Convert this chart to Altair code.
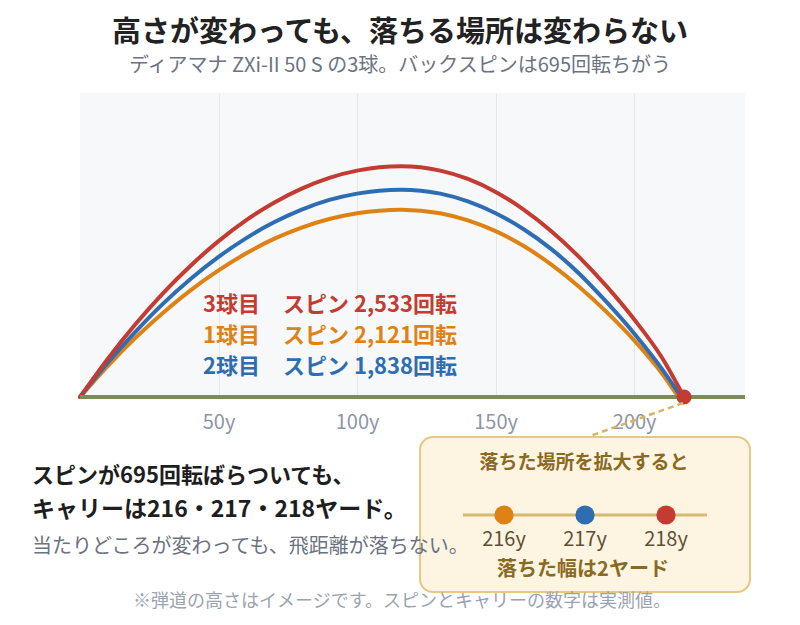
import altair as alt
import pandas as pd

FONT = "Noto Sans CJK JP"

RED = "#c43b31"
ORANGE = "#e08213"
BLUE = "#2f6db3"
GROUND = "#7c8b5b"
GOLD = "#8a6a22"

# trajectories: carry (yards) and height (plot units)
ball1_x = [0, 10, 20, 30, 40, 50, 60, 70, 80, 90, 100, 116, 130, 140, 150, 160, 170, 180, 190, 200, 210, 216]
ball1_h = [0, 11.2, 21.4, 30.5, 38.7, 45.8, 52.0, 57.2, 61.3, 64.4, 66.5, 67.8, 66.5, 63.9, 60.0, 54.7, 48.0, 40.0, 30.8, 20.5, 8.6, 0]

ball2_x = [0, 10, 20, 30, 40, 50, 60, 70, 80, 90, 100, 116, 130, 140, 150, 160, 170, 180, 190, 200, 210, 217]
ball2_h = [0, 12.4, 23.6, 33.8, 42.8, 50.7, 57.5, 63.2, 67.8, 71.3, 73.6, 75.0, 73.6, 70.8, 66.5, 60.8, 53.6, 44.8, 34.4, 23.0, 10.2, 0]

ball3_x = [0, 10, 20, 30, 40, 50, 60, 70, 80, 90, 100, 116, 130, 140, 150, 160, 170, 180, 190, 200, 210, 218]
ball3_h = [0, 13.8, 26.3, 37.6, 47.6, 56.4, 64.0, 70.3, 75.4, 79.3, 81.9, 83.5, 81.9, 78.9, 74.2, 67.9, 60.1, 50.8, 40.1, 28.1, 14.3, 0]

balls = ["1球目", "2球目", "3球目"]
carries = [216, 217, 218]
spins = ["2,121", "1,838", "2,533"]
ball_colors = [ORANGE, BLUE, RED]
tick_values = [50, 100, 150, 200]

TITLE = "高さが変わっても、落ちる場所は変わらない"
SUBTITLE = "ディアマナ ZXi-II 50 S の3球。バックスピンは695回転ちがう"
BODY = ["スピンが695回転ばらついても、", "キャリーは216・217・218ヤード。"]
BODY_SUB = "当たりどころが変わっても、飛距離が落ちない。"
NOTE = "※弾道の高さはイメージです。スピンとキャリーの数字は実測値。"
BOX_TITLE = "落ちた場所を拡大すると"
BOX_FOOT = "落ちた幅は2ヤード"

X_MAIN = alt.X(
    "carry:Q",
    scale=alt.Scale(domain=[0, 240], nice=False),
    axis=alt.Axis(
        values=tick_values, labelExpr="datum.value + 'y'", grid=True,
        gridColor="#e3e7ee", domain=False, ticks=False, labelFontSize=20,
        labelColor="#8c96a8", labelFont=FONT, labelPadding=15, title=None,
    ),
)
Y_MAIN = alt.Y("height:Q", scale=alt.Scale(domain=[0, 110], nice=False), axis=None)


def trajectory(xs, hs, color):
    df = pd.DataFrame({"carry": xs, "height": hs})
    return alt.Chart(df).mark_line(
        color=color, strokeWidth=4, interpolate="monotone", strokeCap="round"
    ).encode(x=X_MAIN, y=Y_MAIN)


def note(text, x, y, size, color, weight="normal", align="left"):
    return alt.Chart(pd.DataFrame({"t": [text]})).mark_text(
        font=FONT, fontSize=size, color=color, fontWeight=weight,
        align=align, baseline="middle",
    ).encode(x=alt.value(x), y=alt.value(y), text="t:N")


ground = alt.Chart(pd.DataFrame({"height": [0]})).mark_rule(
    color=GROUND, strokeWidth=4
).encode(y=Y_MAIN)

landing = alt.Chart(pd.DataFrame({"carry": [carries[2]], "height": [0]})).mark_circle(
    size=230, color=RED, opacity=1
).encode(x=X_MAIN, y=Y_MAIN)

main = alt.layer(
    trajectory(ball1_x, ball1_h, ORANGE),
    trajectory(ball2_x, ball2_h, BLUE),
    trajectory(ball3_x, ball3_h, RED),
    ground,
    landing,
)

# zoomed strip of the landing spots
inset_df = pd.DataFrame({
    "carry": carries,
    "ball": balls,
    "label": [f"{c}y" for c in carries],
})
X_INSET = alt.X("carry:Q", scale=alt.Scale(domain=[216, 218], range=[424, 586]), axis=None)

box = alt.Chart(pd.DataFrame({"a": [0]})).mark_rect(
    fill="#fdf5e2", stroke="#e5c981", strokeWidth=2, cornerRadius=13
).encode(x=alt.value(340), x2=alt.value(670), y=alt.value(344), y2=alt.value(499))

pointer = alt.Chart(pd.DataFrame({"a": [0]})).mark_rule(
    color="#d6b462", strokeWidth=2.5, strokeDash=[6, 4]
).encode(x=alt.value(603), y=alt.value(310), x2=alt.value(510), y2=alt.value(343))

strip = alt.Chart(pd.DataFrame({"a": [0]})).mark_rule(
    color="#d9b96d", strokeWidth=3
).encode(x=alt.value(383), x2=alt.value(627), y=alt.value(422))

inset_dots = alt.Chart(inset_df).mark_circle(size=370, opacity=1).encode(
    x=X_INSET,
    y=alt.value(422),
    color=alt.Color("ball:N", scale=alt.Scale(domain=balls, range=ball_colors), legend=None),
)
inset_labels = alt.Chart(inset_df).mark_text(
    font=FONT, fontSize=20, color="#5f5035", baseline="middle"
).encode(x=X_INSET, y=alt.value(447), text="label:N")

inset = alt.layer(box, pointer, strip, inset_dots, inset_labels)

texts = [
    note(TITLE, 320, -60, 29, "#222222", "bold", "center"),
    note(SUBTITLE, 320, -27, 20, "#6b7482", "normal", "center"),
    note(BODY[0], -48, 383, 22, "#1e1e1e", "bold"),
    note(BODY[1], -48, 417, 23, "#1e1e1e", "bold"),
    note(BODY_SUB, -48, 454, 20, "#6b7280"),
    note(NOTE, 322, 509, 18, "#9aa3af", "normal", "center"),
    note(BOX_TITLE, 504, 370, 19, GOLD, "bold", "center"),
    note(BOX_FOOT, 503, 477, 20, GOLD, "bold", "center"),
]
# in-plot legend: ball number and spin, top row is the highest ball
legend_rows = [(2, 212), (0, 243), (1, 274)]
for i, y in legend_rows:
    texts.append(note(balls[i], 123, y, 22, ball_colors[i], "bold"))
    texts.append(note(f"スピン {spins[i]}回転", 203, y, 22, ball_colors[i], "bold"))

chart = (
    alt.layer(main, inset, *texts)
    .resolve_scale(x="independent")
    .properties(
        width=665,
        height=304,
        autosize=alt.AutoSizeParams(type="none"),
        padding={"left": 72, "top": 85, "right": 47, "bottom": 220},
    )
    .configure_view(fill="#f6f8fa", strokeWidth=0)
)

chart.save("out.html", embed_options={"renderer": "svg", "actions": False})
